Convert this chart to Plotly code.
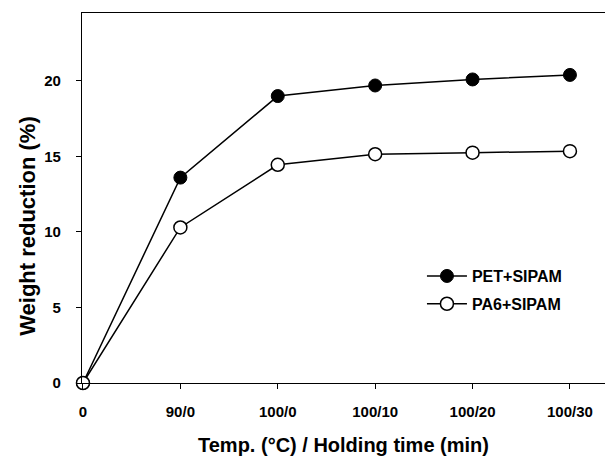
import plotly.graph_objects as go

categories = ["0", "90/0", "100/0", "100/10", "100/20", "100/30"]
pet_sipam = [0, 13.6, 19.0, 19.7, 20.1, 20.4]
pa6_sipam = [0, 10.3, 14.45, 15.15, 15.25, 15.35]
y_ticks = [0, 5, 10, 15, 20]

FONT = "Liberation Sans, Arial, Helvetica, sans-serif"

fig = go.Figure()
fig.add_trace(go.Scatter(
    x=categories, y=pet_sipam, name="PET+SIPAM", mode="lines+markers",
    legendgroup="pet",
    line=dict(color="black", width=1.5),
    marker=dict(symbol="circle", size=13, color="black", line=dict(color="black", width=1)),
    cliponaxis=False,
))
fig.add_trace(go.Scatter(
    x=categories, y=pa6_sipam, name="PA6+SIPAM", mode="lines+markers",
    legendgroup="pa6",
    line=dict(color="black", width=1.5),
    marker=dict(symbol="circle", size=13, color="white", line=dict(color="black", width=1.5)),
    cliponaxis=False,
))

fig.update_layout(
    width=605, height=457,
    margin=dict(l=82, r=0, t=13, b=74),
    paper_bgcolor="white", plot_bgcolor="white",
    font=dict(family=FONT, color="black", size=15, weight="bold"),
    showlegend=True,
    legend=dict(
        x=0.65, y=0.335, xanchor="left", yanchor="top",
        bgcolor="rgba(0,0,0,0)", borderwidth=0,
        font=dict(family=FONT, size=16, color="black", weight="bold"),
        itemwidth=40, tracegroupgap=4,
    ),
    xaxis=dict(
        type="category", range=[-0.01, 5.36],
        showline=True, linecolor="black", linewidth=1.2, mirror=True,
        ticks="outside", ticklen=5, tickwidth=1.2, tickcolor="black",
        showgrid=False, zeroline=False, ticklabelstandoff=10,
        tickfont=dict(family=FONT, size=15, color="black", weight="bold"),
    ),
    yaxis=dict(
        range=[0, 24.5], tickvals=y_ticks,
        showline=True, linecolor="black", linewidth=1.2, mirror=False,
        ticks="outside", ticklen=5, tickwidth=1.2, tickcolor="black",
        showgrid=False, zeroline=False, ticklabelstandoff=12,
        tickfont=dict(family=FONT, size=15, color="black", weight="bold"),
    ),
    annotations=[
        dict(text="Temp. (°C) / Holding time (min)", xref="paper", yref="paper",
             x=0.5, y=-0.1676, xanchor="center", yanchor="middle", showarrow=False,
             font=dict(family=FONT, size=20, color="black", weight="bold")),
        dict(text="Weight reduction (%)", xref="paper", yref="paper",
             x=-0.1057, y=0.424, xanchor="center", yanchor="middle", showarrow=False,
             textangle=-90,
             font=dict(family=FONT, size=22, color="black", weight="bold")),
    ],
)

fig.write_html("out.html")
